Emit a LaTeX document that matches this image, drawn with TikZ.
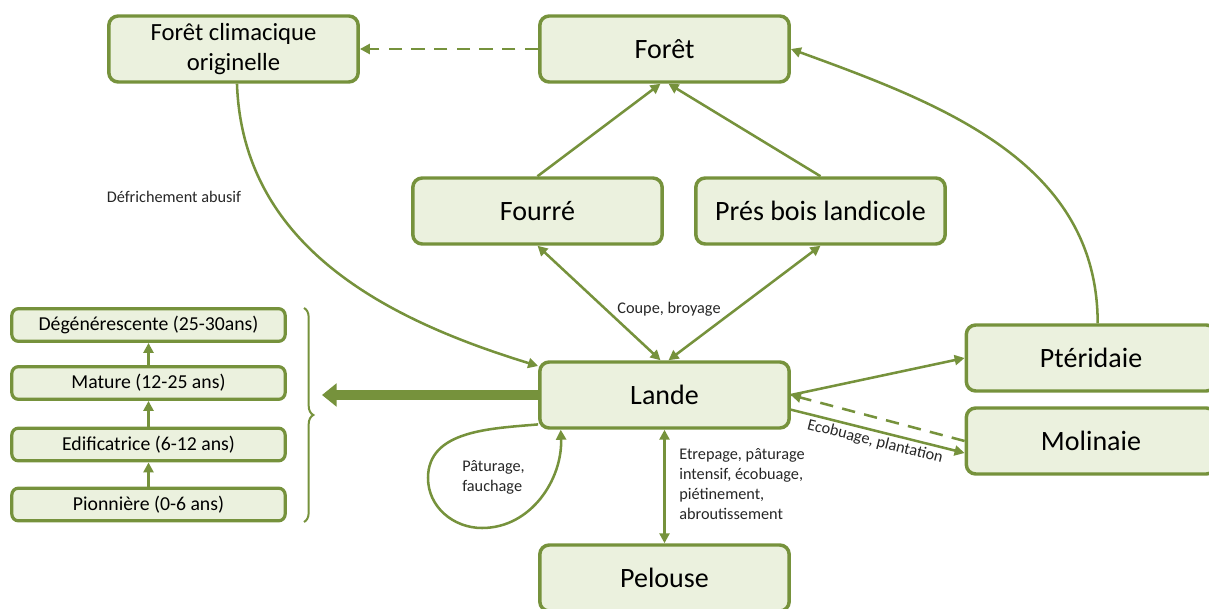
\documentclass[tikz,border=0pt]{standalone}
\usepackage{fontspec}
\setmainfont{Carlito}
\usetikzlibrary{arrows.meta,decorations.pathreplacing,calc}
\definecolor{vert}{RGB}{118,146,60}
\definecolor{vertclair}{RGB}{235,241,222}
\definecolor{texte}{RGB}{38,38,38}
\tikzset{
  grand/.style={draw=vert, fill=vertclair, line width=2.6pt, rounded corners=7pt,
    minimum width=187pt, minimum height=49.5pt, inner sep=0pt, align=center,
    font=\fontsize{21}{25}\selectfont},
  petit/.style={draw=vert, fill=vertclair, line width=2.4pt, rounded corners=5pt,
    minimum width=205pt, minimum height=24.5pt, inner sep=0pt,
    font=\fontsize{14.8}{17}\selectfont},
  lien/.style={draw=vert, line width=1.9pt, -{Triangle[length=7.5pt,width=7.5pt]}},
  lienbi/.style={lien, {Triangle[length=7.5pt,width=7.5pt]}-{Triangle[length=7.5pt,width=7.5pt]}},
  tirets/.style={dash pattern=on 10pt off 7pt},
  legende/.style={text=texte, inner sep=0pt, align=left,
    font=\fontsize{12.2}{15}\selectfont}
}
\begin{document}
\begin{tikzpicture}[x=0.75pt,y=-0.75pt]
\useasboundingbox (0,0) rectangle (1209,609);

% boites principales
\node[grand, font=\fontsize{18.5}{22.5}\selectfont] (clim) at (233.5,49) {Forêt climacique\\originelle};
\node[grand] (foret) at (664.5,49) {Forêt};
\node[grand] (fourre) at (537.5,211) {Fourré};
\node[grand] (pres) at (820.5,211) {Prés bois landicole};
\node[grand] (lande) at (664.5,395) {Lande};
\node[grand] (pteri) at (1091,358) {Ptéridaie};
\node[grand] (moli) at (1091,441) {Molinaie};
\node[grand] (pelouse) at (664.5,578) {Pelouse};

% stades de la lande
\node[petit] (deg) at (148.5,325) {Dégénérescente (25-30ans)};
\node[petit] (mat) at (148.5,383) {Mature (12-25 ans)};
\node[petit] (edi) at (148.5,444.5) {Edificatrice (6-12 ans)};
\node[petit] (pio) at (148.5,504.5) {Pionnière (0-6 ans)};
\draw[lien] (pio) -- (edi);
\draw[lien] (edi) -- (mat);
\draw[lien] (mat) -- (deg);
\draw[vert, line width=1.5pt, decorate, decoration={brace, amplitude=7pt}] (304,308) -- (304,522);
\coordinate (pointe) at (322,395);
\draw[vert, line width=7.5pt, -{Triangle[length=11pt,width=17pt]}] (lande.west) -- (pointe);

% liens
\draw[lien, tirets] (foret) -- (clim);
\draw[lien] (fourre.north) -- ([xshift=-3pt]foret.south);
\draw[lien] (pres.north) -- ([xshift=3pt]foret.south);
\draw[lienbi] (fourre.south) -- ([xshift=-3pt]lande.north);
\draw[lienbi] (pres.south) -- ([xshift=3pt]lande.north);
\node[legende] (coupe) at (669,309) {Coupe, broyage};

\draw[lien] ([xshift=2.6pt]clim.south) to[out=-88,in=163] ([yshift=21.75pt]lande.west);
\node[legende] (defri) at (174,197) {Défrichement abusif};

\draw[lien] ([xshift=5pt]pteri.north) to[out=90,in=-20] (foret.east);
\draw[lien] (lande.east) -- (pteri.west);
\draw[lien, tirets] (moli.west) -- (lande.east);
\draw[lien] ([yshift=-11pt]lande.east) -- node[legende, sloped, below=2pt] (ecob) {Ecobuage, plantation} ([yshift=-9pt]moli.west);

\draw[lienbi] (lande.south) -- (pelouse.north);
\node[legende, anchor=north west] (etre) at (679,448) {Etrepage, pâturage\\intensif, écobuage,\\piétinement,\\abroutissement};

% boucle
\draw[lien] ([yshift=4pt]lande.south west) to[out=185,in=90] (428,478) to[out=-90,in=180] (482,528) to[out=0,in=-88] ([xshift=17pt]lande.south west);
\node[legende, anchor=north west] (patu) at (462,460) {Pâturage,\\fauchage};
\end{tikzpicture}
\end{document}
